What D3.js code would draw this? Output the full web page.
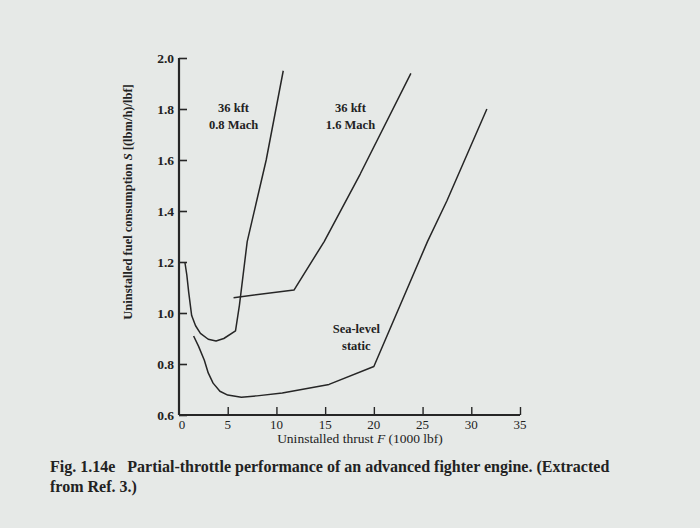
<!DOCTYPE html>
<html>
<head>
<meta charset="utf-8">
<script src="https://cdn.jsdelivr.net/npm/d3@7"></script>
<style>
  body { margin: 0; background: #e6e9e7; }
  svg { display: block; }
  text { font-family: "Liberation Serif", "DejaVu Serif", serif; fill: #222; }
</style>
</head>
<body>
<script>
// values: F in 1000 lbf, S in (lbm/h)/lbf
const mach08 = [
  [0.6, 1.20], [0.8, 1.15], [1.0, 1.08], [1.3, 0.99], [1.7, 0.95], [2.2, 0.92],
  [3.0, 0.897], [3.8, 0.89], [4.6, 0.90], [5.8, 0.93], [6.2, 1.03], [7.0, 1.28],
  [8.95, 1.60], [10.7, 1.95]
];
const mach16 = [
  [5.6, 1.06], [11.8, 1.09], [14.9, 1.28], [18.6, 1.545], [23.8, 1.94]
];
const seaLevel = [
  [1.5, 0.91], [2.0, 0.87], [2.6, 0.815], [3.0, 0.765], [3.5, 0.725], [4.2, 0.693],
  [5.0, 0.678], [6.4, 0.67], [8.0, 0.675], [10.6, 0.686], [15.4, 0.72], [20.0, 0.79],
  [25.5, 1.28], [27.5, 1.44], [31.6, 1.80]
];
const xTicks = [0, 5, 10, 15, 20, 25, 30, 35];
const yTicks = [0.6, 0.8, 1.0, 1.2, 1.4, 1.6, 1.8, 2.0];
const labels = [
  { lines: ['36 kft', '0.8 Mach'], F: 5.6, S: 1.79 },
  { lines: ['36 kft', '1.6 Mach'], F: 17.6, S: 1.79 },
  { lines: ['Sea-level', 'static'], F: 18.2, S: 0.92 }
];

const width = 700, height = 528;
const svg = d3.select('body').append('svg')
  .attr('width', width)
  .attr('height', height);

const x = d3.scaleLinear().domain([0, 35]).range([179, 520]);
const y = d3.scaleLinear().domain([0.6, 2.0]).range([415, 58]);

const ink = '#262626';

// axes
const yAxis = svg.append('g')
  .attr('transform', 'translate(' + x(0) + ',0)')
  .call(d3.axisRight(y).tickValues(yTicks).tickSize(8).tickFormat(''));
yAxis.select('.domain').attr('stroke', ink).attr('stroke-width', 2.2)
  .attr('d', 'M0,' + y(2.0) + 'V' + y(0.6));
yAxis.selectAll('.tick line').attr('stroke', ink).attr('stroke-width', 1.6);

svg.append('g').selectAll('text')
  .data(yTicks)
  .join('text')
  .attr('x', x(0) - 5)
  .attr('y', d => y(d) + 5)
  .attr('text-anchor', 'end')
  .attr('font-size', 13.5)
  .attr('font-weight', 'bold')
  .text(d => d.toFixed(1));

const xAxis = svg.append('g')
  .attr('transform', 'translate(0,' + y(0.6) + ')')
  .call(d3.axisTop(x).tickValues(xTicks.filter(d => d > 0)).tickSize(8).tickFormat(''));
xAxis.select('.domain').attr('stroke', ink).attr('stroke-width', 2)
  .attr('d', 'M' + x(0) + ',0H' + x(35));
xAxis.selectAll('.tick line').attr('stroke', ink).attr('stroke-width', 1.4);

svg.append('g').selectAll('text')
  .data(xTicks)
  .join('text')
  .attr('x', d => x(d) + (d === 0 ? 3 : 0))
  .attr('y', y(0.6) + 14)
  .attr('text-anchor', 'middle')
  .attr('font-size', 13)
  .text(d => d);

// axis titles
const xt = svg.append('text')
  .attr('x', 360)
  .attr('y', 443)
  .attr('text-anchor', 'middle')
  .attr('font-size', 13.5);
xt.append('tspan').text('Uninstalled thrust ');
xt.append('tspan').attr('font-style', 'italic').text('F');
xt.append('tspan').text(' (1000 lbf)');

const yt = svg.append('text')
  .attr('transform', 'translate(132,202) rotate(-90)')
  .attr('text-anchor', 'middle')
  .attr('font-size', 12.5)
  .attr('font-weight', 'bold');
yt.append('tspan').text('Uninstalled fuel consumption ');
yt.append('tspan').attr('font-style', 'italic').text('S');
yt.append('tspan').text(' [(lbm/h)/lbf]');

// curves
const line = d3.line().x(d => x(d[0])).y(d => y(d[1]));
[mach08, mach16, seaLevel].forEach(series => {
  svg.append('path')
    .datum(series)
    .attr('fill', 'none')
    .attr('stroke', ink)
    .attr('stroke-width', 1.5)
    .attr('stroke-linejoin', 'round')
    .attr('d', line);
});

// curve labels
labels.forEach(l => {
  const t = svg.append('text')
    .attr('text-anchor', 'middle')
    .attr('font-size', 12.5)
    .attr('font-weight', 'bold');
  l.lines.forEach((s, i) => {
    t.append('tspan')
      .attr('x', x(l.F))
      .attr('y', y(l.S) + i * 17)
      .text(s);
  });
});

// caption
svg.append('text')
  .attr('x', 50)
  .attr('y', 472)
  .attr('font-size', 16)
  .attr('font-weight', 'bold')
  .attr('xml:space', 'preserve')
  .text('Fig. 1.14e   Partial-throttle performance of an advanced fighter engine. (Extracted');
svg.append('text')
  .attr('x', 50)
  .attr('y', 492)
  .attr('font-size', 16)
  .attr('font-weight', 'bold')
  .text('from Ref. 3.)');
</script>
</body>
</html>
